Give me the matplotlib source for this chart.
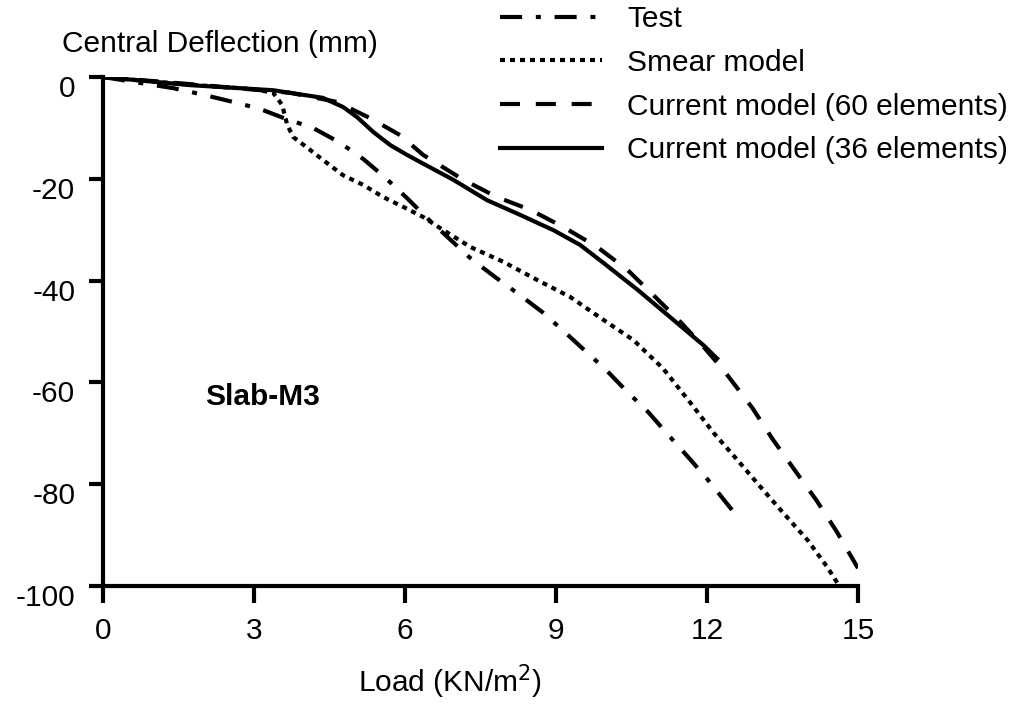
import matplotlib
matplotlib.use("Agg")
import matplotlib.pyplot as plt
import matplotlib.transforms as mtransforms

plt.rcParams['font.family'] = ['Liberation Sans', 'DejaVu Sans']

# ---- data (load in KN/m2, deflection in mm)
load_test = [0, 1.4, 2.0, 2.5, 3.1, 3.6, 4.17, 4.69, 5.17, 5.61, 6.04, 6.48, 7.30,
             7.79, 8.25, 8.73, 9.15, 9.58, 10.0, 10.42, 10.83, 11.21, 11.61, 11.99, 12.5]
defl_test = [0, -2.2, -3.5, -4.7, -6.2, -8.1, -10.0, -12.8, -16.1, -19.8, -23.8, -28.1, -35.6,
             -39.3, -42.6, -46.2, -49.9, -53.8, -57.6, -61.9, -65.8, -70.1, -74.5, -78.8, -85.1]

load_smear = [0, 1.0, 2.0, 3.0, 3.38, 3.56, 3.66, 3.78, 4.06, 4.37, 4.77, 5.17, 5.57, 5.96,
              6.36, 6.70, 7.30, 7.95, 8.63, 9.28, 9.94, 10.54, 11.13, 11.67, 12.13, 12.60,
              13.06, 13.52, 14.0, 14.39, 14.59]
defl_smear = [0, -0.9, -1.7, -2.4, -3.1, -5.5, -9.4, -11.8, -13.9, -16.3, -19.3, -21.2, -23.6, -25.5,
              -27.5, -29.7, -33.4, -36.3, -39.9, -43.2, -47.7, -51.7, -57.3, -64.0, -69.9, -75.2,
              -80.5, -85.7, -91.0, -96.3, -99.4]

load_60 = [0, 1.73, 3.72, 4.65, 5.31, 5.90, 6.36, 7.16, 7.83, 8.49, 9.15, 9.82, 10.42,
           10.93, 11.47, 11.93, 12.33, 12.90, 13.30, 13.74, 14.17, 14.57, 15.0]
defl_60 = [0, -1.4, -3.1, -4.9, -8.1, -11.4, -15.3, -20.2, -23.6, -26.1, -29.5, -33.4, -37.9,
           -42.8, -48.1, -53.0, -57.6, -65.0, -71.1, -77.2, -83.1, -89.2, -96.5]

load_36 = [0, 1.73, 3.38, 4.37, 4.77, 5.05, 5.37, 5.71, 6.04, 6.30, 6.96, 7.63, 8.29,
           8.95, 9.48, 9.94, 10.62, 11.27, 11.93, 12.2]
defl_36 = [0, -1.6, -2.6, -4.1, -5.9, -7.9, -10.8, -13.4, -15.3, -16.7, -20.2, -24.2, -27.1,
           -30.1, -33.0, -36.5, -41.8, -47.2, -52.7, -55.3]

x_ticks = [0, 3, 6, 9, 12, 15]
y_ticks = [0, -20, -40, -60, -80, -100]

FS = 21.5
LW = 3

fig = plt.figure(figsize=(10.14, 7.04), dpi=100)
ax = fig.add_axes([103/1014, 1-586/704, 755/1014, 509/704])

ax.plot(load_test, defl_test, color='black', lw=LW, linestyle=(0, (5.3, 3.3, 1.2, 3.3)),
        dash_capstyle='butt', label='Test')
ax.plot(load_smear, defl_smear, color='black', lw=LW, linestyle=(0, (1.2, 1.2)),
        dash_capstyle='butt', label='Smear model')
ax.plot(load_60, defl_60, color='black', lw=LW, linestyle=(0, (4.8, 3.8)),
        dash_capstyle='butt', label='Current model (60 elements)')
ax.plot(load_36, defl_36, color='black', lw=LW, linestyle='-',
        label='Current model (36 elements)')

ax.set_xlim(0, 15)
ax.set_ylim(-100, 0)
ax.set_xticks(x_ticks)
ax.set_yticks(y_ticks)
ax.set_xticklabels([str(v) for v in x_ticks])
ax.set_yticklabels([str(v) for v in y_ticks])

for s in ['top', 'right']:
    ax.spines[s].set_visible(False)
for s in ['left', 'bottom']:
    ax.spines[s].set_linewidth(3)
ax.tick_params(direction='out', length=10, width=3, labelsize=FS, colors='black')
ax.tick_params(axis='x', length=12, pad=10)
ax.tick_params(axis='y', pad=10)

# tick labels sit a little below their ticks in the original
shift = mtransforms.ScaledTranslation(0, -9/100, fig.dpi_scale_trans)
for lab in ax.get_yticklabels():
    lab.set_transform(lab.get_transform() + shift)

fig.text(62/1014, 1-52/704, 'Central Deflection (mm)', fontsize=FS, va='baseline', ha='left')
fig.text(358/1014, 1-692/704, 'Load (KN/m$^2$)', fontsize=FS, va='baseline', ha='left')
ax.text(2.03, -64.4, 'Slab-M3', fontsize=FS, fontweight='bold', va='baseline', ha='left')

ax.legend(loc='upper left', bbox_to_anchor=(500/1014, 1-5/704), bbox_transform=fig.transFigure,
          frameon=False, fontsize=FS, handlelength=3.4, handletextpad=0.85,
          labelspacing=0.53, borderpad=0, borderaxespad=0)

fig.savefig('out.png', dpi=100)
